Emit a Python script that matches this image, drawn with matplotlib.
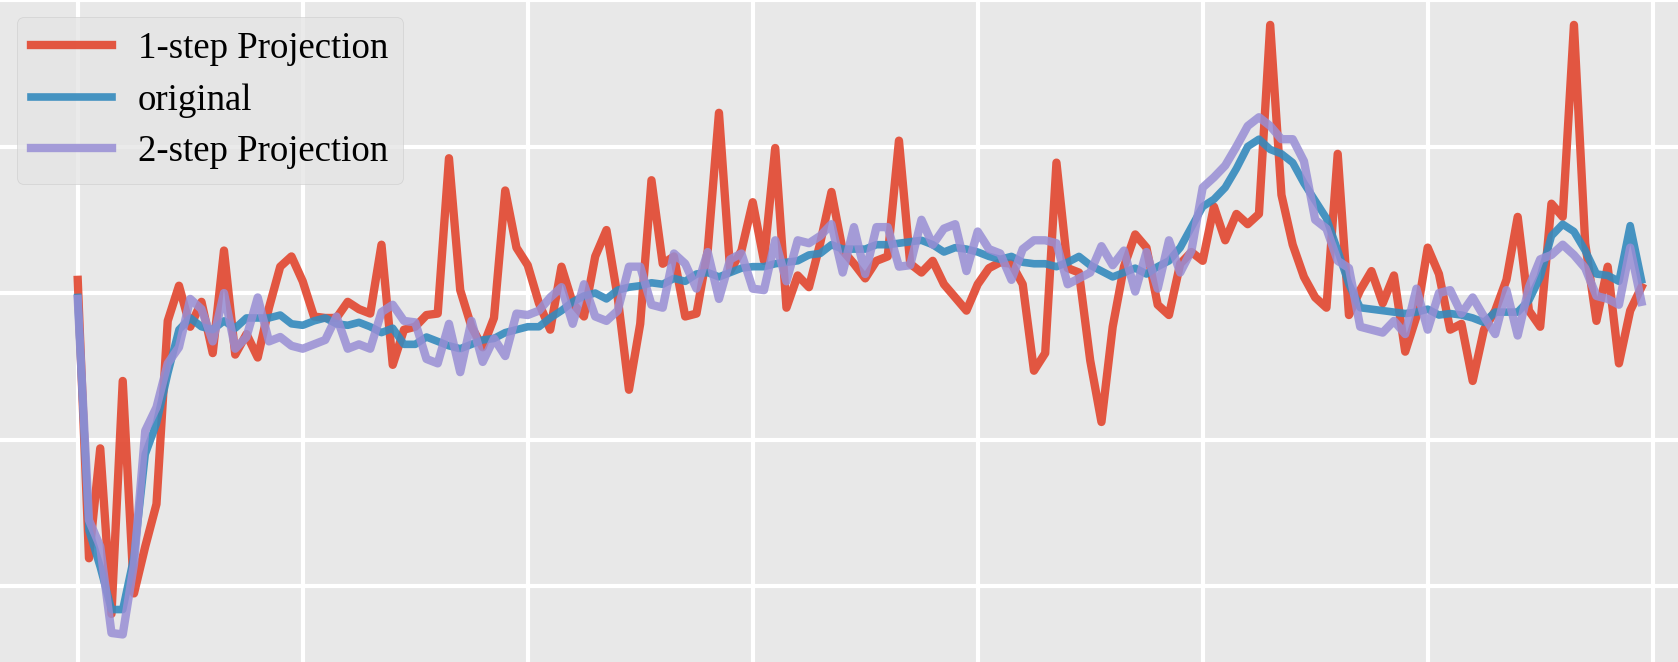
import matplotlib
matplotlib.use('Agg')
import matplotlib.pyplot as plt
import numpy as np

# values (grid rows at 0, 1, 2, 3)
one_step = [2.09, 0.19, 0.94, -0.19, 1.40, -0.05, 0.27, 0.56, 1.81, 2.05,
            1.77, 1.94, 1.59, 2.29, 1.58, 1.72, 1.56, 1.90, 2.18, 2.25,
            2.08, 1.84, 1.83, 1.83, 1.94, 1.89, 1.86, 2.33, 1.51, 1.75,
            1.77, 1.85, 1.86, 2.92, 2.02, 1.77, 1.63, 1.83, 2.70, 2.31,
            2.19, 1.93, 1.75, 2.18, 1.93, 1.84, 2.25, 2.43, 1.97, 1.34,
            1.79, 2.77, 2.20, 2.25, 1.84, 1.86, 2.29, 3.23, 2.15, 2.29,
            2.62, 2.22, 2.99, 1.90, 2.12, 2.04, 2.34, 2.69, 2.29, 2.20,
            2.10, 2.22, 2.25, 3.04, 2.20, 2.14, 2.22, 2.06, 1.97, 1.88,
            2.06, 2.17, 2.21, 2.20, 2.06, 1.47, 1.59, 2.89, 2.17, 2.14,
            1.54, 1.12, 1.77, 2.18, 2.40, 2.31, 1.92, 1.85, 2.20, 2.28,
            2.22, 2.59, 2.36, 2.54, 2.47, 2.54, 3.83, 2.67, 2.33, 2.11,
            1.97, 1.90, 2.95, 1.85, 2.02, 2.15, 1.93, 2.12, 1.60, 1.84,
            2.31, 2.13, 1.75, 1.79, 1.40, 1.75, 1.88, 2.09, 2.52, 1.88,
            1.77, 2.61, 2.52, 3.83, 2.34, 1.81, 2.18, 1.52, 1.88, 2.04]

original = [1.97, 0.38, 0.13, -0.16, -0.16, 0.20, 0.90, 1.11, 1.45, 1.75,
            1.83, 1.77, 1.75, 1.81, 1.76, 1.83, 1.83, 1.83, 1.85, 1.79,
            1.78, 1.81, 1.83, 1.79, 1.78, 1.80, 1.77, 1.73, 1.76, 1.65,
            1.65, 1.70, 1.67, 1.64, 1.62, 1.65, 1.68, 1.69, 1.73, 1.75,
            1.77, 1.77, 1.83, 1.88, 1.94, 1.98, 2.00, 1.96, 2.02, 2.04,
            2.05, 2.07, 2.06, 2.10, 2.08, 2.13, 2.14, 2.11, 2.14, 2.17,
            2.18, 2.18, 2.20, 2.21, 2.22, 2.26, 2.27, 2.33, 2.30, 2.30,
            2.30, 2.33, 2.33, 2.34, 2.35, 2.36, 2.33, 2.28, 2.31, 2.30,
            2.28, 2.25, 2.23, 2.25, 2.21, 2.20, 2.20, 2.18, 2.21, 2.25,
            2.19, 2.15, 2.11, 2.14, 2.17, 2.13, 2.18, 2.22, 2.31, 2.45,
            2.59, 2.64, 2.72, 2.85, 3.00, 3.05, 2.98, 2.95, 2.89, 2.75,
            2.63, 2.51, 2.29, 2.06, 1.90, 1.89, 1.88, 1.87, 1.86, 1.87,
            1.89, 1.85, 1.86, 1.85, 1.83, 1.80, 1.87, 1.87, 1.87, 1.95,
            2.11, 2.39, 2.47, 2.42, 2.29, 2.13, 2.12, 2.08, 2.46, 2.09]

two_step = [1.96, 0.45, 0.27, -0.32, -0.33, 0.15, 1.06, 1.22, 1.52, 1.63,
            1.96, 1.89, 1.67, 2.00, 1.62, 1.70, 1.97, 1.67, 1.70, 1.64,
            1.62, 1.65, 1.68, 1.84, 1.62, 1.65, 1.62, 1.87, 1.92, 1.81,
            1.80, 1.55, 1.52, 1.79, 1.46, 1.81, 1.53, 1.69, 1.57, 1.86,
            1.85, 1.88, 1.97, 2.04, 1.79, 2.06, 1.84, 1.81, 1.88, 2.18,
            2.18, 1.92, 1.90, 2.27, 2.20, 2.03, 2.28, 1.96, 2.23, 2.27,
            2.03, 2.02, 2.36, 2.08, 2.36, 2.34, 2.39, 2.47, 2.14, 2.45,
            2.13, 2.45, 2.45, 2.18, 2.19, 2.50, 2.33, 2.44, 2.47, 2.15,
            2.42, 2.30, 2.27, 2.09, 2.30, 2.36, 2.36, 2.34, 2.06, 2.10,
            2.14, 2.32, 2.19, 2.29, 2.01, 2.28, 2.03, 2.36, 2.14, 2.29,
            2.72, 2.79, 2.87, 3.00, 3.14, 3.20, 3.14, 3.05, 3.05, 2.90,
            2.50, 2.44, 2.22, 2.17, 1.77, 1.75, 1.73, 1.81, 1.72, 2.03,
            1.75, 2.00, 2.02, 1.86, 1.97, 1.84, 1.72, 2.02, 1.71, 2.04,
            2.23, 2.26, 2.33, 2.26, 2.17, 1.98, 1.96, 1.92, 2.31, 1.94]

steps = np.arange(len(original))

plt.style.use('ggplot')
plt.rcParams['font.family'] = ['Liberation Serif', 'DejaVu Serif']

fig = plt.figure(figsize=(16.78, 6.62), dpi=100)
ax = fig.add_axes([0, 0, 1, 1])

ax.plot(steps, one_step, color='#E24A33', linewidth=6, alpha=0.92, label='1-step Projection')
ax.plot(steps, original, color='#348ABD', linewidth=5.5, alpha=0.9, label='original')
ax.plot(steps, two_step, color='#988ED5', linewidth=6, alpha=0.85, label='2-step Projection')

ax.set_xlim(-6.91, 142.25)
ax.set_ylim(-0.518, 3.995)
ax.set_xticks(np.arange(0, 141, 20))
ax.set_yticks([0, 1, 2, 3, 4])
ax.tick_params(length=0, labelbottom=False, labelleft=False)
ax.grid(True, color='white', linewidth=3)
ax.set_facecolor('#E8E8E8')
for sp in ax.spines.values():
    sp.set_visible(False)

# legend rows are spaced a bit wider than the default
ax.legend(loc='upper left', fontsize=26.5, labelspacing=0.47, handlelength=2.2,
          handletextpad=0.7, borderaxespad=0.45, framealpha=0.8)

fig.savefig('out.png', dpi=100)
